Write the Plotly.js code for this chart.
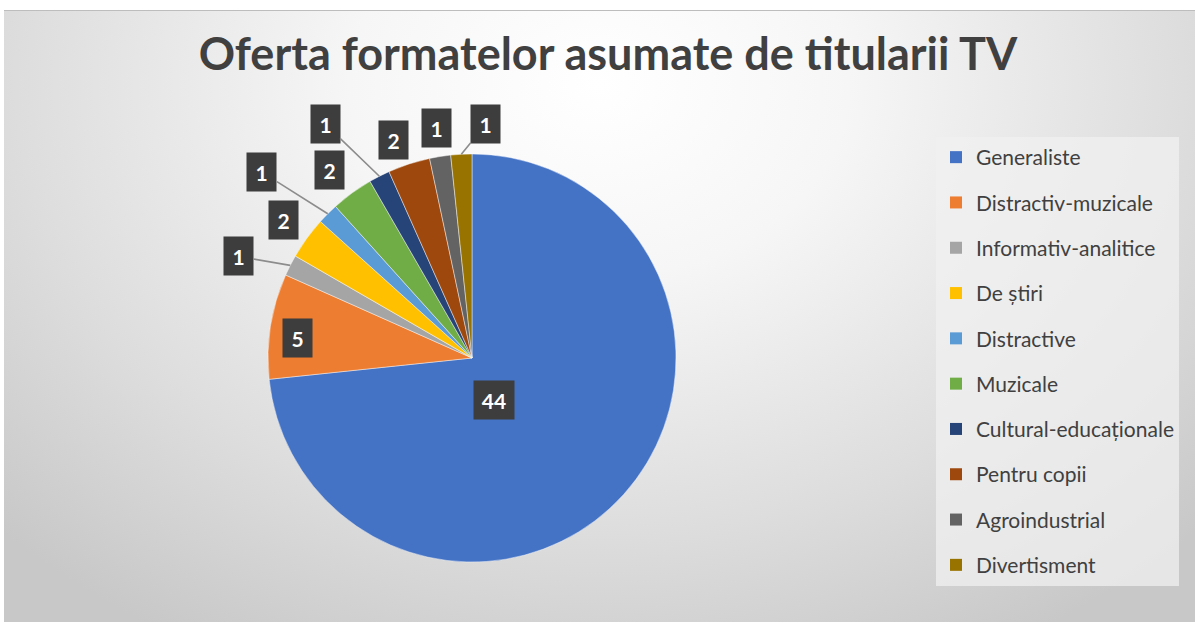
<!DOCTYPE html>
<html>
<head>
<meta charset="utf-8">
<script src="https://cdn.plot.ly/plotly-3.0.1.min.js"></script>
<style>
  html, body { margin: 0; padding: 0; background: #ffffff; }
  #wrap { position: relative; width: 1195px; height: 622px; overflow: hidden; }
  #bg { position: absolute; left: 4px; top: 10px; right: 0; bottom: 0;
        background: radial-gradient(ellipse 70% 105% at 50% 12%, #ffffff 0%, #f6f6f6 30%, #dddddd 70%, #c8c8c8 100%);
        border-top: 1px solid #bdbdbd; }
  #chart { position: absolute; left: 0; top: 0; width: 1195px; height: 622px; }
</style>
</head>
<body>
<div id="wrap"><div id="bg"></div><div id="chart"></div></div>
<script>
// ---- data ----
var categories = ["Generaliste", "Distractiv-muzicale", "Informativ-analitice", "De știri",
                  "Distractive", "Muzicale", "Cultural-educaționale", "Pentru copii",
                  "Agroindustrial", "Divertisment"];
var values = [44, 5, 1, 2, 1, 2, 1, 2, 1, 1];
var titleText = "Oferta formatelor asumate de titularii TV";

// ---- style ----
var colors = ["#4472C4", "#ED7D31", "#A5A5A5", "#FFC000", "#5B9BD5",
              "#70AD47", "#264478", "#9E480E", "#636363", "#997300"];
// label placement (offset from slice mid-angle in degrees, radius factor, leader line)
var labelAngOff = [20.4, -2.5, -3.5, 0.2, -3.5, -1.1, -5.1, -1.7, 0.1, 6.4];
var labelRad    = [0.23, 0.86, 1.25, 1.145, 1.375, 1.155, 1.355, 1.135, 1.14, 1.15];
var labelLeader = [false, false, true, false, true, false, true, false, false, true];

var W = 1195, H = 622;
var CX = 472, CY = 358, R = 204;   // pie centre and radius in pixels

var pie = {
  type: "pie",
  labels: categories,
  values: values,
  sort: false,
  direction: "clockwise",
  rotation: 0,
  textinfo: "none",
  hoverinfo: "label+value",
  showlegend: false,
  marker: { colors: colors, line: { color: "rgba(255,255,255,0.55)", width: 0.8 } },
  domain: { x: [(CX - R) / W, (CX + R) / W], y: [1 - (CY + R) / H, 1 - (CY - R) / H] }
};

// legend entries (one per category, same colours as slices)
var legendTraces = categories.map(function (c, i) {
  return {
    type: "scatter", mode: "markers", x: [null], y: [null], name: c,
    legendgroup: "g" + i, showlegend: true, hoverinfo: "skip",
    marker: { symbol: "square", size: 12, color: colors[i] }
  };
});

// data labels
var total = values.reduce(function (a, b) { return a + b; }, 0);
var annotations = [];
var cum = 0;
values.forEach(function (v, i) {
  var mid = (cum + v / 2) / total * 360;
  cum += v;
  var a = (mid + labelAngOff[i]) * Math.PI / 180;
  var bx = CX + R * labelRad[i] * Math.sin(a);
  var by = CY - R * labelRad[i] * Math.cos(a);
  var txt = String(v);
  var ann = {
    text: "<b>" + txt + "</b>",
    font: { family: "Lato, 'Open Sans', sans-serif", size: 21, color: "#ffffff" },
    bgcolor: "#3d3d3d",
    borderpad: 4,
    width: 10 + 11 * txt.length,
    height: 30,
    xref: "paper", yref: "paper",
    xanchor: "center", yanchor: "middle"
  };
  if (labelLeader[i]) {
    var m = mid * Math.PI / 180;
    var ex = CX + R * Math.sin(m);
    var ey = CY - R * Math.cos(m);
    ann.x = ex / W; ann.y = 1 - ey / H;
    ann.showarrow = true; ann.arrowhead = 0; ann.arrowwidth = 1.6;
    ann.arrowcolor = "#8c8c8c"; ann.standoff = 0;
    ann.ax = bx - ex; ann.ay = by - ey;
  } else {
    ann.x = bx / W; ann.y = 1 - by / H;
    ann.showarrow = false;
  }
  annotations.push(ann);
});

var layout = {
  width: W, height: H,
  margin: { l: 0, r: 0, t: 0, b: 0 },
  paper_bgcolor: "rgba(0,0,0,0)",
  plot_bgcolor: "rgba(0,0,0,0)",
  title: {
    text: "<b>" + titleText + "</b>",
    font: { family: "Lato, 'Open Sans', sans-serif", size: 45, color: "#404040" },
    x: 608 / W, xanchor: "center", xref: "container",
    y: 1 - 54 / H, yanchor: "middle", yref: "container"
  },
  xaxis: { visible: false, domain: [0.8, 0.81] },
  yaxis: { visible: false, domain: [0.0, 0.01] },
  showlegend: true,
  legend: {
    x: 936 / W, xanchor: "left", y: 1 - 137 / H, yanchor: "top",
    bgcolor: "rgba(240,240,240,0.75)", borderwidth: 0,
    font: { family: "Lato, 'Open Sans', sans-serif", size: 21, color: "#404040" },
    tracegroupgap: 15, itemclick: false, itemdoubleclick: false
  },
  annotations: annotations
};

Plotly.newPlot("chart", [pie].concat(legendTraces), layout, { displayModeBar: false, staticPlot: true });
</script>
</body>
</html>
